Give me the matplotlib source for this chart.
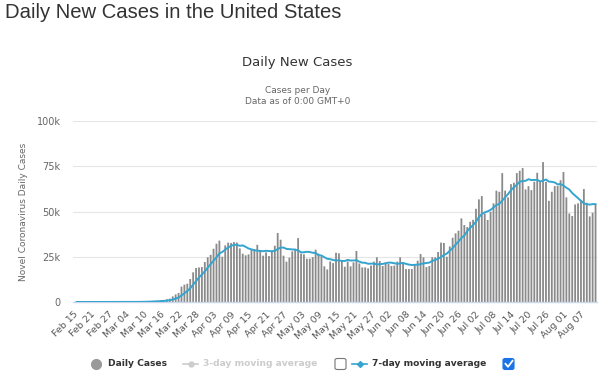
import numpy as np
import pandas as pd
import matplotlib.pyplot as plt
from matplotlib.patches import FancyBboxPatch
from matplotlib.lines import Line2D

# daily new cases, Feb 15 .. Aug 11
dates = pd.date_range('2020-02-15', '2020-08-11', freq='D')
daily_cases = [
    0, 0, 0, 0, 0, 0, 1, 0, 0, 1, 1, 0, 0, 2, 3,            # Feb 15 - Feb 29
    8, 20, 24, 26, 77, 91, 112, 104, 177, 286, 396, 458, 586, 683, 840, 1000, 1500,  # Mar 01 - Mar 17
    1840, 3100, 4200, 5000, 8500, 9600, 10100, 12700, 16400, 18800, 19100, 19300,
    22100, 24700, 26100, 29400, 32200, 33900, 25000, 31300, 32800, 32600, 33100,
    32800, 29600, 26700, 25800, 26300, 29300, 29300, 31600, 28500, 25600, 27400,
    25400, 28500, 31100, 38100, 34400, 25600, 22300, 24500, 28000, 29400, 35300,
    26700, 26300, 23900, 23900, 24800, 28900, 26700, 25200, 19700, 18000, 22400,
    21500, 27200, 26900, 23000, 19500, 22400, 19700, 21900, 28200, 21300, 19100,
    19100, 18600, 20100, 22300, 24700, 22600, 19900, 21700, 21000, 19900, 20100,
    22300, 24700, 21300, 18200, 18200, 18200, 21000, 22800, 26500, 24700, 19300,
    19900, 24700, 24700, 27600, 32800, 32600, 25000, 30700, 35500, 37900, 39400,
    46200, 42500, 41400, 44300, 45400, 51500, 56700, 58500, 48900, 45300, 49900,
    54500, 61500, 60900, 71200, 61500, 57800, 65100, 65900, 71200, 72500, 74000,
    62200, 64000, 61800, 66400, 71400, 66400, 77300, 66400, 55900, 60900, 64000,
    64200, 67300, 71800, 57800, 48900, 47500, 53900, 54500, 56300, 62400, 54800,
    47300, 49300, 53900,
]
y_ticks = [0, 25000, 50000, 75000, 100000]
y_tick_labels = ['0', '25k', '50k', '75k', '100k']

s = pd.Series(daily_cases, index=dates)
avg7 = s.rolling(7, min_periods=1).mean()
x = np.arange(len(s))

fig = plt.figure(figsize=(6, 3.79), dpi=100)
fig.patch.set_facecolor('white')
ax = fig.add_axes([73 / 600, 1 - 302 / 379, 524 / 600, 181 / 379])

bars = ax.bar(x, s.values, width=0.62, color='#8a8a8a', linewidth=0, zorder=2)
for b in bars:
    b.set_snap(False)
ax.plot(x, avg7.values, color='#35a4cf', linewidth=1.4, zorder=3)

ax.set_ylim(0, 100000)
ax.set_xlim(-1.2, len(s) - 0.5)
ax.set_yticks(y_ticks)
ax.set_yticklabels(y_tick_labels)
ax.grid(axis='y', color='#e6e6e6', linewidth=0.8, zorder=0)
ax.set_axisbelow(True)

tick_idx = x[::6]
ax.set_xticks(tick_idx)
ax.set_xticklabels([d.strftime('%b %d') for d in dates[::6]], rotation=45,
                   ha='right', va='center', rotation_mode='anchor')
ax.tick_params(axis='x', length=0, pad=8, labelsize=6.8, labelcolor='#555555')
ax.tick_params(axis='y', length=0, pad=9, labelsize=7, labelcolor='#666666')

for side in ['top', 'right', 'left']:
    ax.spines[side].set_visible(False)
ax.spines['bottom'].set_color('#ccd6eb')
ax.spines['bottom'].set_linewidth(1)

# titles
fig.text(5 / 600, 0.968, 'Daily New Cases in the United States', fontsize=14.6,
         family='Liberation Sans', color='#333333', va='center', ha='left')
fig.text(0.496, 0.834, 'Daily New Cases', fontsize=9.5, color='#333333', ha='center', va='center')
fig.text(0.496, 0.7625, 'Cases per Day', fontsize=6.5, color='#666666', ha='center', va='center')
fig.text(0.496, 0.731, 'Data as of 0:00 GMT+0', fontsize=6.5, color='#666666', ha='center', va='center')
fig.text(24 / 600, 1 - 212 / 379, 'Novel Coronavirus Daily Cases', fontsize=6.5,
         color='#666666', rotation=90, ha='center', va='center')

# legend, drawn by hand like the page does
ly = 1 - 364 / 379
fig.lines.append(Line2D([96 / 600], [ly], transform=fig.transFigure,
                        color='#999999', marker='o', markersize=7, linewidth=0))
fig.text(108 / 600, ly, 'Daily Cases', fontsize=6.6, weight='bold', color='#333333', va='center')
fig.lines.append(Line2D([183 / 600, 198 / 600], [ly, ly], transform=fig.transFigure,
                        color='#cccccc', linewidth=1.2))
fig.lines.append(Line2D([190.5 / 600], [ly], transform=fig.transFigure,
                        color='#cccccc', marker='o', markersize=3.5, linewidth=0))
fig.text(203 / 600, ly, '3-day moving average', fontsize=6.6, weight='bold', color='#cccccc', va='center')
fig.patches.append(FancyBboxPatch((335 / 600, ly - 5.5 / 379), 11 / 600, 11 / 379,
                                  boxstyle='round,pad=0,rounding_size=0.004',
                                  transform=fig.transFigure, fc='white', ec='#767676', lw=0.8))
fig.lines.append(Line2D([352 / 600, 367 / 600], [ly, ly], transform=fig.transFigure,
                        color='#35a4cf', linewidth=1.2))
fig.lines.append(Line2D([359.5 / 600], [ly], transform=fig.transFigure,
                        color='#35a4cf', marker='D', markersize=3, linewidth=0))
fig.text(372 / 600, ly, '7-day moving average', fontsize=6.6, weight='bold', color='#333333', va='center')
fig.patches.append(FancyBboxPatch((503 / 600, ly - 5.5 / 379), 11 / 600, 11 / 379,
                                  boxstyle='round,pad=0,rounding_size=0.004',
                                  transform=fig.transFigure, fc='#1a73e8', ec='#1a73e8', lw=0.8))
fig.lines.append(Line2D([505.5 / 600, 508 / 600, 512.5 / 600],
                        [ly + 0.2 / 379, ly - 2.8 / 379, ly + 3.2 / 379],
                        transform=fig.transFigure, color='white', linewidth=1.3))

fig.savefig('out.png', dpi=100, facecolor='white')
